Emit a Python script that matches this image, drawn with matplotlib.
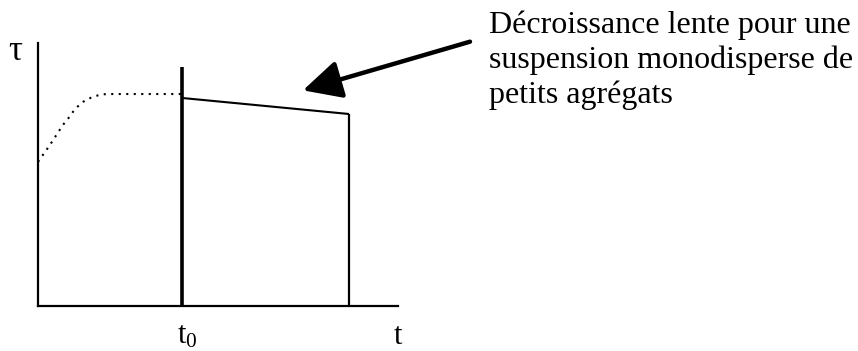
import numpy as np
import matplotlib
matplotlib.use("Agg")
import matplotlib.pyplot as plt

plt.rcParams['font.family'] = ['Liberation Serif', 'DejaVu Serif']
plt.rcParams['mathtext.fontset'] = 'custom'
plt.rcParams['mathtext.rm'] = 'Liberation Serif'
plt.rcParams['mathtext.it'] = 'Liberation Serif:italic'

# montee avant t0 (pointilles)
t_montee = [0.0, 0.33, 0.69, 0.85, 0.97, 1.1, 1.25, 1.4, 1.53, 1.67, 1.81, 2.0, 3.0, 4.0]
tau_montee = [5.48, 6.12, 6.88, 7.15, 7.38, 7.58, 7.76, 7.88, 7.95, 8.01, 8.05, 8.06, 8.06, 8.06]

# decroissance lente apres t0
t0 = 4.0
t_fin = 8.64
t_decr = [t0, t_fin]
tau_decr = [7.91, 7.30]
tau_t0_haut = 9.1

fig = plt.figure(figsize=(8.58, 3.51), dpi=100)
ax = fig.add_axes([38/858, 45/351, 360/858, 263/351])
ax.set_xlim(0, 10)
ax.set_ylim(0, 10)

ax.plot(t_montee, tau_montee, color='black', lw=1.5, linestyle=(0, (1, 2.6)))
ax.plot(t_decr, tau_decr, color='black', lw=1.5, solid_capstyle='butt')
ax.plot([t0, t0], [0, tau_t0_haut], color='black', lw=2.6, solid_capstyle='butt')
ax.plot([t_fin, t_fin], [0, tau_decr[-1]], color='black', lw=1.6, solid_capstyle='butt')

for s in ['top', 'right']:
    ax.spines[s].set_visible(False)
for s in ['left', 'bottom']:
    ax.spines[s].set_linewidth(1.6)
ax.set_xticks([])
ax.set_yticks([])

# fleche vers la partie decroissante
ax.annotate('', xy=(7.36, 8.2), xytext=(12.0, 10.05),
            arrowprops=dict(arrowstyle='-|>,head_length=1.3,head_width=0.65',
                            lw=3.2, color='black', shrinkA=0, shrinkB=0,
                            mutation_scale=18),
            annotation_clip=False)

fig.text(15/858, 1 - 60/351, 'τ', fontsize=25, ha='center', va='baseline')
fig.text(177/858, 1 - 344/351, r'$\mathrm{t}_0$', fontsize=22, ha='left', va='baseline')
fig.text(398/858, 1 - 344/351, 't', fontsize=22, ha='center', va='baseline')

lignes = ['Décroissance lente pour une', 'suspension monodisperse de', 'petits agrégats']
for i, l in enumerate(lignes):
    fig.text(489/858, 1 - (33 + 35*i)/351, l, fontsize=23, ha='left', va='baseline')

fig.savefig('out.png', dpi=100)
